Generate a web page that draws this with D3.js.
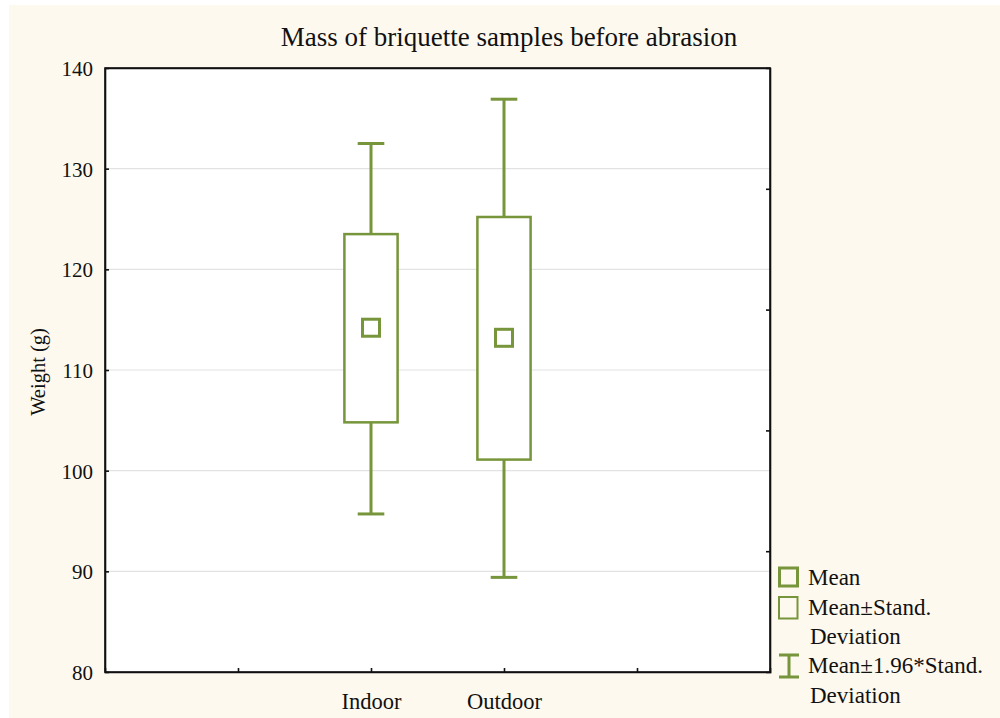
<!DOCTYPE html>
<html>
<head>
<meta charset="utf-8">
<script src="https://cdn.jsdelivr.net/npm/d3@7"></script>
<style>
  html, body { margin: 0; padding: 0; background: #ffffff; }
  svg { display: block; }
  text { font-family: "Liberation Serif", "Times New Roman", serif; fill: #111; }
</style>
</head>
<body>
<svg id="chart" width="1000" height="718"></svg>
<script>
// ---- data ----
const categories = ["Indoor", "Outdoor"];
const means      = [114.2, 113.2];
const sdLow      = [104.8, 101.1];
const sdHigh     = [123.5, 125.2];
const ciLow      = [95.7, 89.4];
const ciHigh     = [132.5, 136.9];
const yTicks     = [80, 90, 100, 110, 120, 130, 140];
const legendLabels = [["Mean"], ["Mean\u00B1Stand.", "Deviation"], ["Mean\u00B11.96*Stand.", "Deviation"]];
const titleText = "Mass of briquette samples before abrasion";
const yLabel = "Weight (g)";

const green = "#77953a";
const svg = d3.select("#chart");

// background
svg.append("rect").attr("x", 0).attr("y", 0).attr("width", 1000).attr("height", 718).attr("fill", "#ffffff");
svg.append("rect").attr("x", 9).attr("y", 5).attr("width", 991).attr("height", 713).attr("fill", "#fef9ef");

const L = 105, R = 770, T = 68, B = 672;
svg.append("rect").attr("x", L).attr("y", T).attr("width", R - L).attr("height", B - T).attr("fill", "#ffffff");

const x = d3.scaleLinear().domain([0, 5]).range([L, R]);
const y = d3.scaleLinear().domain([80, 140]).range([B, T]);
const yR = d3.scaleLinear().domain([0, 5]).range([B, T]);
const catPos = categories.map((c, i) => i + 2);

// gridlines
svg.append("g").selectAll("line").data(yTicks.filter(v => v > 80 && v < 140)).join("line")
  .attr("x1", L).attr("x2", R).attr("y1", d => y(d)).attr("y2", d => y(d))
  .attr("stroke", "#e2e2e2").attr("stroke-width", 1.2);

// axes
const axL = d3.axisLeft(y).tickValues(yTicks).tickSize(-4).tickPadding(12).tickFormat(d3.format("d"));
const gL = svg.append("g").attr("transform", `translate(${L},0)`).call(axL);
const axB = d3.axisBottom(x).tickValues([1, 2, 3, 4]).tickSize(-4).tickPadding(21)
  .tickFormat(d => (d >= 2 && d <= 3) ? categories[d - 2] : "");
const gB = svg.append("g").attr("transform", `translate(0,${B})`).call(axB);
const axR = d3.axisRight(yR).tickValues([1, 2, 3, 4]).tickSize(-4).tickFormat("");
const gR = svg.append("g").attr("transform", `translate(${R},0)`).call(axR);
const axT = d3.axisTop(x).tickValues([]).tickSize(0);
const gT = svg.append("g").attr("transform", `translate(0,${T})`).call(axT);

[gL, gB, gR, gT].forEach(g => {
  g.select(".domain").attr("stroke", "#111").attr("stroke-width", 1.6);
  g.selectAll(".tick line").attr("stroke", "#111").attr("stroke-width", 1.6);
  g.selectAll(".tick text").style("font-family", "'Liberation Serif', serif").style("font-size", "21px").attr("fill", "#111");
});
gB.selectAll(".tick text").style("font-size", "22.5px");
gL.selectAll(".tick line").filter(d => d === 80 || d === 140).remove();
gL.selectAll(".tick text").attr("dy", "0.35em");
gB.selectAll(".tick text").attr("dy", "0.71em");

// frame (ensure closed box)
svg.append("rect").attr("x", L).attr("y", T).attr("width", R - L).attr("height", B - T)
  .attr("fill", "none").attr("stroke", "#111").attr("stroke-width", 1.6);

// boxes
const boxW = x(0.4) - x(0), capW = x(0.2) - x(0);
const g = svg.append("g");
categories.forEach((c, i) => {
  const cx = x(catPos[i]);
  g.append("line").attr("x1", cx).attr("x2", cx).attr("y1", y(sdHigh[i])).attr("y2", y(ciHigh[i]))
    .attr("stroke", green).attr("stroke-width", 3);
  g.append("line").attr("x1", cx).attr("x2", cx).attr("y1", y(sdLow[i])).attr("y2", y(ciLow[i]))
    .attr("stroke", green).attr("stroke-width", 3);
  g.append("line").attr("x1", cx - capW / 2).attr("x2", cx + capW / 2).attr("y1", y(ciHigh[i])).attr("y2", y(ciHigh[i]))
    .attr("stroke", green).attr("stroke-width", 3);
  g.append("line").attr("x1", cx - capW / 2).attr("x2", cx + capW / 2).attr("y1", y(ciLow[i])).attr("y2", y(ciLow[i]))
    .attr("stroke", green).attr("stroke-width", 3);
  g.append("rect").attr("x", cx - boxW / 2).attr("y", y(sdHigh[i])).attr("width", boxW)
    .attr("height", y(sdLow[i]) - y(sdHigh[i])).attr("fill", "#ffffff").attr("stroke", green).attr("stroke-width", 2.5);
  g.append("rect").attr("x", cx - 8.5).attr("y", y(means[i]) - 8.5).attr("width", 17).attr("height", 17)
    .attr("fill", "#ffffff").attr("stroke", green).attr("stroke-width", 3);
});

// title
svg.append("text").attr("x", 509).attr("y", 46).attr("text-anchor", "middle")
  .style("font-size", "27px").text(titleText);

// y label
svg.append("text").attr("transform", "translate(45,372) rotate(-90)").attr("text-anchor", "middle")
  .style("font-size", "20.5px").text(yLabel);

// legend
const lg = svg.append("g");
lg.append("rect").attr("x", 779.5).attr("y", 568).attr("width", 18).attr("height", 18)
  .attr("fill", "none").attr("stroke", green).attr("stroke-width", 3);
lg.append("rect").attr("x", 779).attr("y", 597).attr("width", 18.5).attr("height", 21.5)
  .attr("fill", "none").attr("stroke", green).attr("stroke-width", 2);
lg.append("line").attr("x1", 789).attr("x2", 789).attr("y1", 654).attr("y2", 677).attr("stroke", green).attr("stroke-width", 3);
lg.append("line").attr("x1", 779).attr("x2", 799).attr("y1", 655).attr("y2", 655).attr("stroke", green).attr("stroke-width", 3);
lg.append("line").attr("x1", 779).attr("x2", 799).attr("y1", 677).attr("y2", 677).attr("stroke", green).attr("stroke-width", 3);
const baselines = [[585], [615, 644], [673, 703]];
legendLabels.forEach((lines, i) => {
  lines.forEach((t, j) => {
    lg.append("text").attr("x", j === 0 ? 808 : 810).attr("y", baselines[i][j])
      .style("font-size", "23px").text(t);
  });
});
</script>
</body>
</html>
